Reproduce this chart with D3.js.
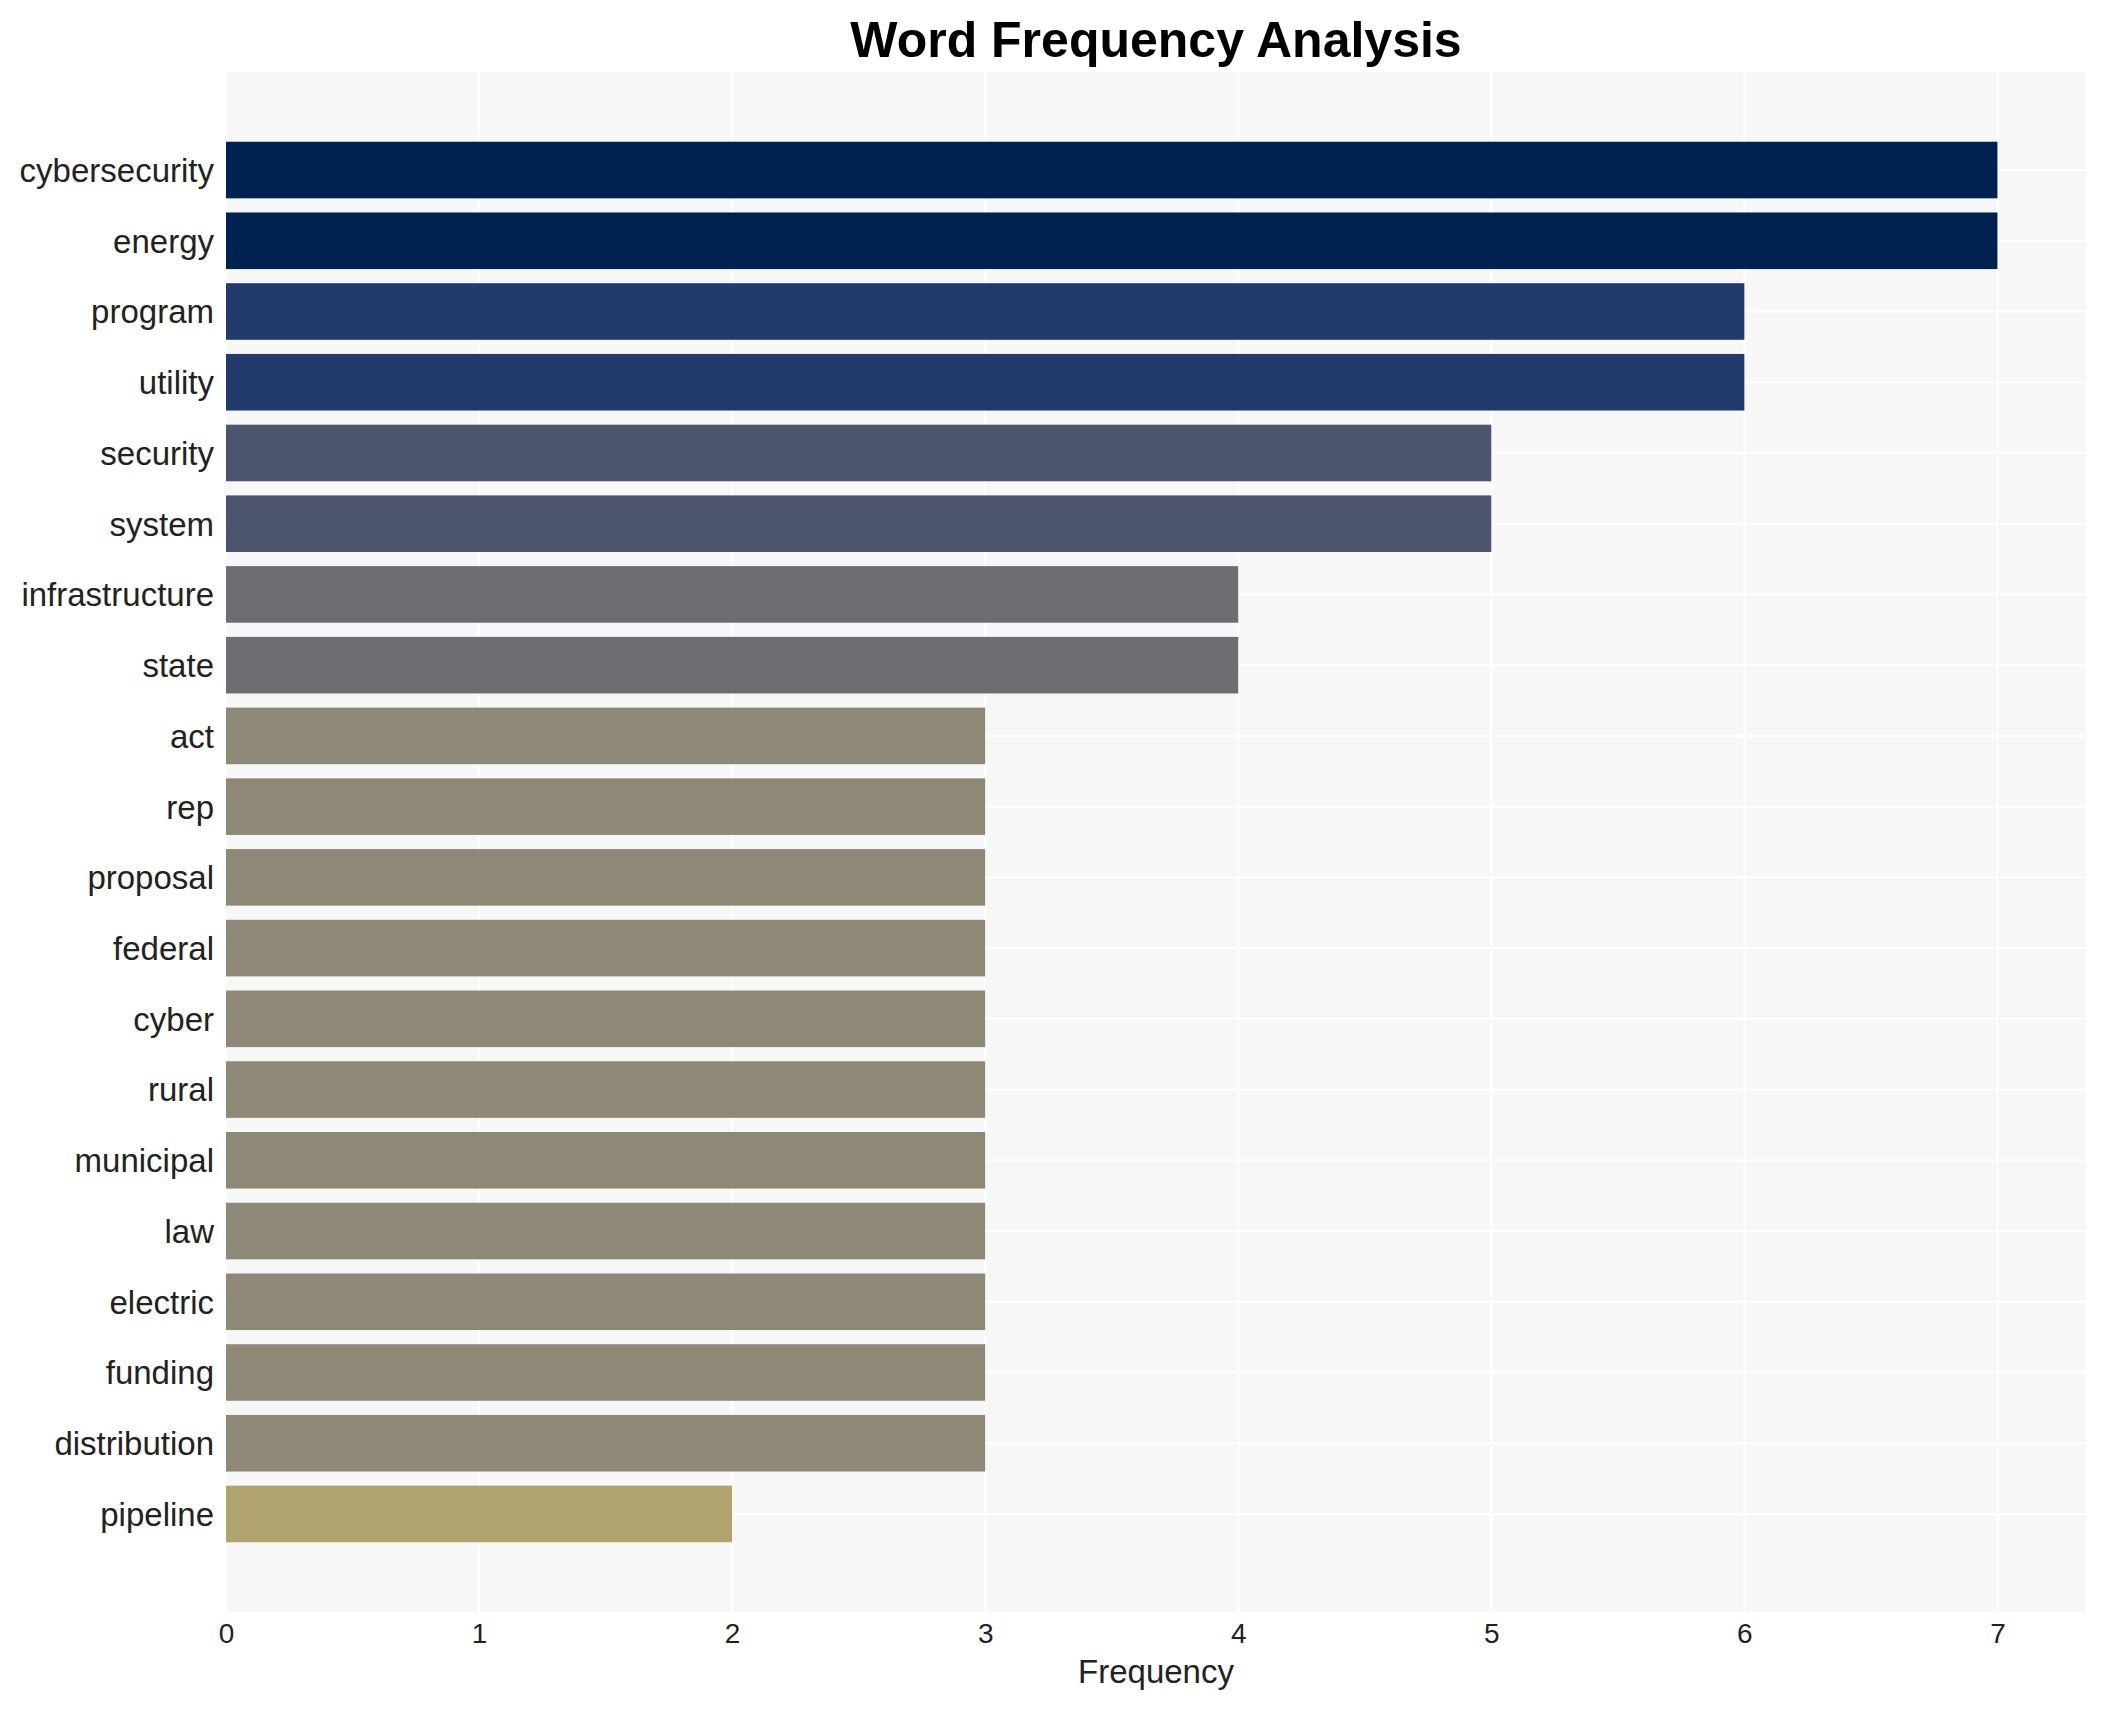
<!DOCTYPE html>
<html>
<head>
<meta charset="utf-8">
<script src="https://cdn.jsdelivr.net/npm/d3@7"></script>
<style>
  html, body { margin: 0; padding: 0; background: #ffffff; }
  svg { display: block; }
</style>
</head>
<body>
<svg id="chart" width="2105" height="1710"></svg>
<script>
// ---- Data ----
const words = ["cybersecurity","energy","program","utility","security","system","infrastructure","state","act","rep","proposal","federal","cyber","rural","municipal","law","electric","funding","distribution","pipeline"];
const frequencies = [7,7,6,6,5,5,4,4,3,3,3,3,3,3,3,3,3,3,3,2];
const xTickValues = [0,1,2,3,4,5,6,7];
// colour per frequency value
const colorValues = [2,3,4,5,6,7];
const colorHexes = ["#b0a46e","#8e8877","#6c6d71","#4c556d","#223a6c","#002250"];

const W = 2105, H = 1710;
const margin = {left: 226, right: W - 2086, top: 72, bottom: H - 1612};
const svg = d3.select("#chart");
const font = "'Liberation Sans', Arial, Helvetica, sans-serif";

const x = d3.scaleLinear().domain([0, 7.35]).range([margin.left, W - margin.right]);
const y = d3.scaleBand().domain(words).range([margin.top, H - margin.bottom])
  .paddingInner(0.2).paddingOuter(0.986);
const color = d3.scaleOrdinal().domain(colorValues).range(colorHexes);

// panel background
svg.append("rect")
  .attr("x", x.range()[0]).attr("y", y.range()[0])
  .attr("width", x.range()[1] - x.range()[0])
  .attr("height", y.range()[1] - y.range()[0])
  .attr("fill", "#f7f7f7");

// gridlines
const grid = svg.append("g");
grid.selectAll("line.v").data(xTickValues).join("line")
  .attr("class","v")
  .attr("x1", d => x(d)).attr("x2", d => x(d))
  .attr("y1", y.range()[0]).attr("y2", y.range()[1])
  .attr("stroke", "#ffffff").attr("stroke-width", 2);
grid.selectAll("line.h").data(words).join("line")
  .attr("class","h")
  .attr("x1", x.range()[0]).attr("x2", x.range()[1])
  .attr("y1", d => y(d) + y.bandwidth()/2).attr("y2", d => y(d) + y.bandwidth()/2)
  .attr("stroke", "#ffffff").attr("stroke-width", 2);

// bars
svg.append("g").selectAll("rect").data(words).join("rect")
  .attr("x", x(0))
  .attr("y", d => y(d))
  .attr("width", (d,i) => x(frequencies[i]) - x(0))
  .attr("height", y.bandwidth())
  .attr("fill", (d,i) => color(frequencies[i]));

// y axis (category labels)
const yAxis = svg.append("g")
  .attr("transform", `translate(${margin.left},0)`)
  .call(d3.axisLeft(y).tickSize(0).tickPadding(12));
yAxis.select(".domain").remove();
yAxis.selectAll("text")
  .attr("font-family", font).attr("font-size", 33).attr("fill", "#222222")
  .attr("dy", "0.36em");

// x axis
const xAxis = svg.append("g")
  .attr("transform", `translate(0,${H - margin.bottom})`)
  .call(d3.axisBottom(x).tickValues(xTickValues).tickFormat(d3.format("d")).tickSize(0).tickPadding(11));
xAxis.select(".domain").remove();
xAxis.selectAll("text")
  .attr("font-family", font).attr("font-size", 28).attr("fill", "#222222");

// axis title
svg.append("text")
  .attr("x", (x.range()[0] + x.range()[1]) / 2)
  .attr("y", 1683)
  .attr("text-anchor", "middle")
  .attr("font-family", font).attr("font-size", 33).attr("fill", "#222222")
  .text("Frequency");

// title
svg.append("text")
  .attr("x", (x.range()[0] + x.range()[1]) / 2)
  .attr("y", 57)
  .attr("text-anchor", "middle")
  .attr("font-family", font).attr("font-size", 50).attr("font-weight", "bold").attr("fill", "#000000")
  .text("Word Frequency Analysis");
</script>
</body>
</html>
